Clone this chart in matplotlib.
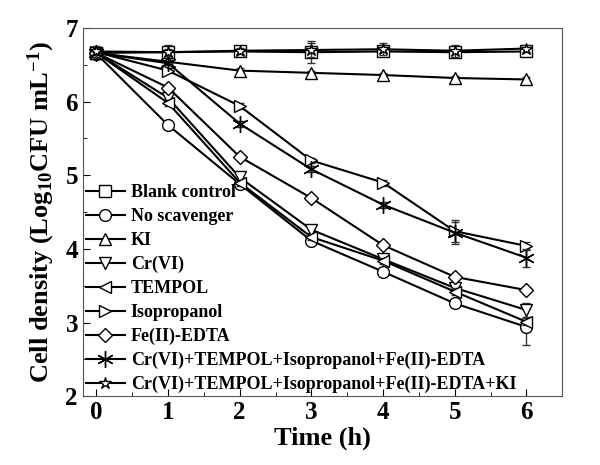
import numpy as np
import matplotlib
matplotlib.use('Agg')
import matplotlib.pyplot as plt
from matplotlib.ticker import MultipleLocator

plt.rcParams['font.family'] = ['Liberation Serif', 'DejaVu Serif']
plt.rcParams['font.weight'] = 'bold'
plt.rcParams['mathtext.fontset'] = 'custom'
plt.rcParams['mathtext.bf'] = 'Liberation Serif:bold'
plt.rcParams['mathtext.rm'] = 'Liberation Serif:bold'
plt.rcParams['mathtext.default'] = 'bf'

# Data
time_h = [0, 1, 2, 3, 4, 5, 6]
labels = ['Blank control', 'No scavenger', 'KI', 'Cr(VI)', 'TEMPOL', 'Isopropanol',
          'Fe(II)-EDTA', 'Cr(VI)+TEMPOL+Isopropanol+Fe(II)-EDTA',
          'Cr(VI)+TEMPOL+Isopropanol+Fe(II)-EDTA+KI']
markers = ['s', 'o', '^', 'v', '<', '>', 'D', (6, 2, 0), '*']

blank = [6.66, 6.67, 6.68, 6.67, 6.68, 6.67, 6.68]
no_scav = [6.65, 5.68, 4.88, 4.11, 3.69, 3.26, 2.94]
ki = [6.66, 6.54, 6.42, 6.39, 6.36, 6.32, 6.30]
cr6 = [6.66, 6.05, 4.97, 4.26, 3.86, 3.47, 3.17]
tempol = [6.66, 5.98, 4.90, 4.16, 3.84, 3.42, 3.01]
isoprop = [6.67, 6.42, 5.94, 5.20, 4.90, 4.24, 4.04]
fe_edta = [6.66, 6.19, 5.25, 4.69, 4.05, 3.62, 3.44]
mix4 = [6.66, 6.52, 5.70, 5.08, 4.60, 4.22, 3.88]
mix5 = [6.68, 6.67, 6.69, 6.70, 6.71, 6.69, 6.72]

err_blank = [0.05, 0.1, 0.04, 0.15, 0.06, 0.06, 0.05]
err_no_scav = [0.04, 0.03, 0.04, 0.04, 0.05, 0.05, 0.25]
err_ki = [0.03, 0.03, 0.03, 0.03, 0.03, 0.03, 0.03]
err_cr6 = [0.03, 0.04, 0.04, 0.04, 0.04, 0.05, 0.1]
err_tempol = [0.03, 0.04, 0.04, 0.04, 0.04, 0.05, 0.05]
err_isoprop = [0.03, 0.03, 0.04, 0.04, 0.04, 0.15, 0.05]
err_fe = [0.03, 0.03, 0.04, 0.04, 0.04, 0.04, 0.04]
err_mix4 = [0.03, 0.03, 0.04, 0.04, 0.04, 0.15, 0.12]
err_mix5 = [0.08, 0.05, 0.04, 0.1, 0.08, 0.08, 0.05]

series = [blank, no_scav, ki, cr6, tempol, isoprop, fe_edta, mix4, mix5]
errors = [err_blank, err_no_scav, err_ki, err_cr6, err_tempol, err_isoprop,
          err_fe, err_mix4, err_mix5]
sizes = [8.5, 8.5, 8.5, 8.5, 8.5, 8.5, 7, 12, 9]

fig, ax = plt.subplots(figsize=(6, 4.65), dpi=100)
fig.subplots_adjust(left=0.138, right=0.937, top=0.94, bottom=0.148)

handles = []
for y, e, m, ms, lab in zip(series, errors, markers, sizes, labels):
    ax.errorbar(time_h, y, yerr=e, fmt='none', ecolor='#333333',
                capsize=3, elinewidth=1)
    h, = ax.plot(time_h, y, color='black', lw=1.5, marker=m, ms=ms,
                 mfc='white', mec='black', mew=1.0, label=lab)
    handles.append(h)

ax.set_xlim(-0.19, 6.5)
ax.set_ylim(2, 7)
ax.xaxis.set_major_locator(MultipleLocator(1))
ax.xaxis.set_minor_locator(MultipleLocator(0.5))
ax.yaxis.set_major_locator(MultipleLocator(1))
ax.yaxis.set_minor_locator(MultipleLocator(0.5))
ax.tick_params(which='both', direction='in', labelsize=18)
ax.tick_params(which='major', length=5)
ax.tick_params(which='minor', length=3)
ax.set_xlabel('Time (h)', fontsize=19, fontweight='bold', labelpad=2)
ax.set_ylabel('Cell density (Log$_{10}$CFU mL$^{-1}$)', fontsize=19,
              fontweight='bold', labelpad=6)
for sp in ax.spines.values():
    sp.set_color('#555555')

ax.legend(handles=handles, loc='lower left', frameon=False, handlelength=2.2,
          handletextpad=0.3, labelspacing=0.38, borderaxespad=0.0,
          borderpad=0.15, prop={'weight': 'bold', 'size': 13})

plt.savefig('out.png', dpi=100)
